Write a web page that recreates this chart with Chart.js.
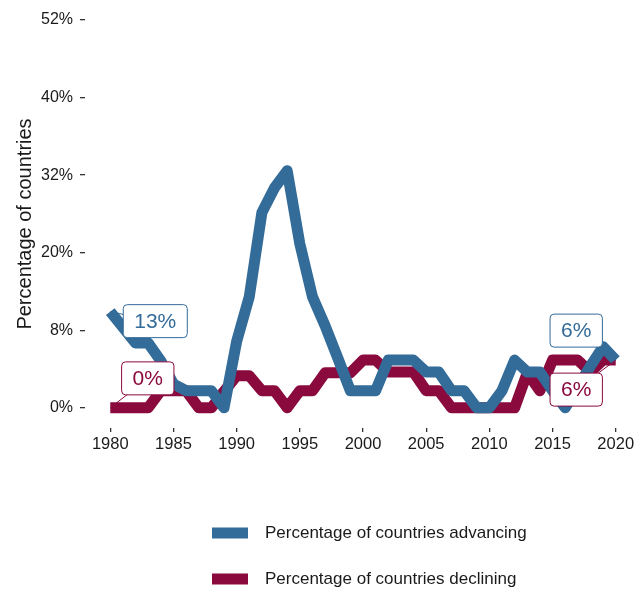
<!DOCTYPE html>
<html>
<head>
<meta charset="utf-8">
<script src="https://cdn.jsdelivr.net/npm/chart.js@4"></script>
<style>
  html, body { margin: 0; padding: 0; background: #fff; }
</style>
</head>
<body>
<canvas id="trendChart" width="641" height="590"></canvas>
<script>
const years = [1980, 1981, 1982, 1983, 1984, 1985, 1986, 1987, 1988, 1989,
               1990, 1991, 1992, 1993, 1994, 1995, 1996, 1997, 1998, 1999,
               2000, 2001, 2002, 2003, 2004, 2005, 2006, 2007, 2008, 2009,
               2010, 2011, 2012, 2013, 2014, 2015, 2016, 2017, 2018, 2019, 2020];
const advancing = [12.9, 10.8, 8.7, 8.7, 6.3, 3.2, 2.3, 2.3, 2.3, 0,
                   8.9, 14.9, 26.2, 29.5, 31.8, 22.0, 14.9, 11.0, 6.7, 2.3,
                   2.3, 2.3, 6.4, 6.4, 6.4, 4.8, 4.8, 2.3, 2.3, 0,
                   0, 2.3, 6.4, 4.8, 4.8, 2.3, 0, 2.8, 5.6, 8.2, 6.4];
const declining = [0, 0, 0, 0, 2.3, 2.3, 2.3, 0, 0, 2.2,
                   4.3, 4.3, 2.3, 2.3, 0, 2.3, 2.3, 4.7, 4.7, 4.7,
                   6.4, 6.4, 4.8, 4.8, 4.8, 2.3, 2.3, 0, 0, 0,
                   0, 0, 0, 4.7, 2.3, 6.4, 6.4, 6.4, 4.8, 6.4, 6.4];
const seriesNames = ['Percentage of countries advancing', 'Percentage of countries declining'];
const seriesColors = ['#336b99', '#8a0a3e'];
const xTickYears = [1980, 1985, 1990, 1995, 2000, 2005, 2010, 2015, 2020];
const yTickValues = [0, 10.4, 20.8, 31.2, 41.6, 52];
const yTickLabels = ['0%', '8%', '20%', '32%', '40%', '52%'];

const fontFamily = '"Liberation Sans", Arial, sans-serif';

// boxed value labels at the start and end of each line
const endLabels = {
    id: 'endLabels',
    afterDatasetsDraw(chart) {
        const ctx = chart.ctx;
        const x = chart.scales.x, y = chart.scales.y;
        const last = years.length - 1;
        // dataset, index, offset of the box from the point
        const spots = [[0, 0, 45, 9.5], [1, 0, 37.5, -29.5], [0, last, -39.5, -29.5], [1, last, -39.5, 29.5]];
        ctx.save();
        ctx.font = '21px ' + fontFamily;
        spots.forEach(([d, i, dx, dy]) => {
            const ds = chart.data.datasets[d];
            const v = ds.data[i].y;
            const px = x.getPixelForValue(years[i]);
            const py = y.getPixelForValue(v);
            const cx = px + dx, cy = py + dy;
            const txt = Math.round(v) + '%';
            const w = ctx.measureText(txt).width + 22, h = 33;
            ctx.strokeStyle = ds.borderColor;
            ctx.lineWidth = 1;
            ctx.beginPath();
            ctx.moveTo(px, py);
            ctx.lineTo(cx, cy);
            ctx.stroke();
            ctx.beginPath();
            ctx.roundRect(cx - w / 2, cy - h / 2, w, h, 4);
            ctx.fillStyle = '#fff';
            ctx.fill();
            ctx.stroke();
            ctx.fillStyle = ds.borderColor;
            ctx.textAlign = 'center';
            ctx.textBaseline = 'middle';
            ctx.fillText(txt, cx, cy + 1);
        });
        ctx.restore();
    }
};

// legend stacked vertically under the plot
const stackedLegend = {
    id: 'stackedLegend',
    afterDraw(chart) {
        const ctx = chart.ctx;
        ctx.save();
        ctx.font = '17px ' + fontFamily;
        ctx.textBaseline = 'middle';
        chart.data.datasets.forEach((ds, i) => {
            const cy = 533 + i * 46;
            ctx.fillStyle = ds.borderColor;
            ctx.fillRect(212, cy - 5.5, 36, 11);
            ctx.fillStyle = '#1a1a1a';
            ctx.fillText(ds.label, 265, cy);
        });
        ctx.restore();
    }
};

function toPoints(vals) {
    return vals.map((v, i) => ({ x: years[i], y: v }));
}

const ctx = document.getElementById('trendChart');

new Chart(ctx, {
    type: 'line',
    data: {
        datasets: [0, 1].map(i => ({
            label: seriesNames[i],
            data: toPoints(i === 0 ? advancing : declining),
            borderColor: seriesColors[i],
            backgroundColor: seriesColors[i],
            borderWidth: 11,
            borderJoinStyle: 'round',
            borderCapStyle: 'butt',
            pointRadius: 0,
            tension: 0,
            fill: false
        }))
    },
    options: {
        responsive: false,
        animation: false,
        layout: { padding: { top: 20, right: 0, bottom: 0, left: 0 } },
        plugins: {
            legend: { display: false },
            tooltip: { enabled: false }
        },
        scales: {
            x: {
                type: 'linear',
                min: 1978,
                max: 2022,
                afterBuildTicks: s => { s.ticks = xTickYears.map(v => ({ value: v })); },
                afterFit: s => { s.height = 162; },
                ticks: {
                    callback: v => String(v),
                    font: { size: 16.5, family: fontFamily },
                    color: '#1a1a1a',
                    padding: 3,
                    maxRotation: 0
                },
                grid: { drawOnChartArea: false, drawTicks: true, tickLength: 4, color: '#333', lineWidth: 1.3 },
                border: { display: false }
            },
            y: {
                min: -2.7,
                max: 52,
                afterBuildTicks: s => { s.ticks = yTickValues.map(v => ({ value: v })); },
                afterFit: s => { s.width = 85; },
                ticks: {
                    callback: (v, i) => yTickLabels[i],
                    font: { size: 16, family: fontFamily },
                    color: '#1a1a1a',
                    padding: 7
                },
                title: {
                    display: true,
                    text: 'Percentage of countries',
                    font: { size: 20, family: fontFamily },
                    color: '#1a1a1a',
                    padding: { top: 13, bottom: 0 }
                },
                grid: { drawOnChartArea: false, drawTicks: true, tickLength: 5, color: '#333', lineWidth: 1.3 },
                border: { display: false }
            }
        }
    },
    plugins: [endLabels, stackedLegend]
});
</script>
</body>
</html>
